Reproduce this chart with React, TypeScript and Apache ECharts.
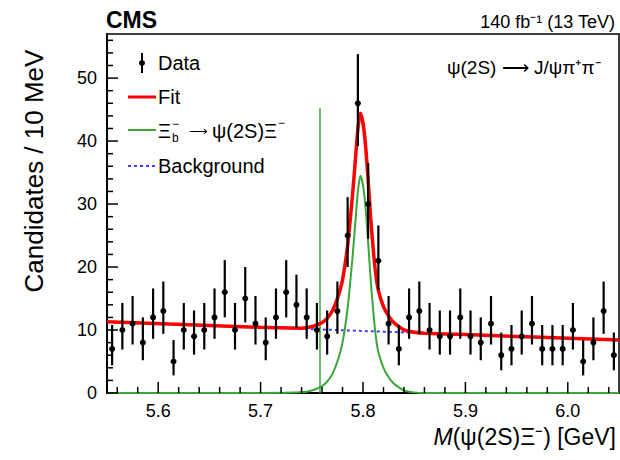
import React, { useEffect, useRef } from "react";
import * as echarts from "echarts";

// ---- data ----
const binCenters = [
  5.555, 5.565, 5.575, 5.585, 5.595, 5.605, 5.615, 5.625, 5.635, 5.645,
  5.655, 5.665, 5.675, 5.685, 5.695, 5.705, 5.715, 5.725, 5.735, 5.745,
  5.755, 5.765, 5.775, 5.785, 5.795, 5.805, 5.815, 5.825, 5.835, 5.845,
  5.855, 5.865, 5.875, 5.885, 5.895, 5.905, 5.915, 5.925, 5.935, 5.945,
  5.955, 5.965, 5.975, 5.985, 5.995, 6.005, 6.015, 6.025, 6.035, 6.045,
];
const candidates = [
  7, 10, 11, 8, 12, 13, 5, 10, 9, 10,
  12, 16, 10, 15, 11, 8, 12, 16, 14, 12,
  10, 9, 13, 25, 46, 30, 21, 11, 7, 12,
  13, 10, 9, 9, 12, 9, 8, 11, 6, 7,
  9, 11, 7, 7, 7, 10, 5, 8, 13, 6,
];
const errDown = [
  2.6, 3.1, 3.3, 2.8, 3.4, 3.6, 2.2, 3.1, 2.9, 3.1,
  3.4, 4.0, 3.1, 3.8, 3.3, 2.8, 3.4, 4.0, 3.7, 3.4,
  3.1, 2.9, 3.6, 5.0, 6.8, 5.5, 4.6, 3.3, 2.6, 3.4,
  3.6, 3.1, 2.9, 2.9, 3.4, 2.9, 2.8, 3.3, 2.4, 2.6,
  2.9, 3.3, 2.6, 2.6, 2.6, 3.1, 2.2, 2.8, 3.6, 2.4,
];
const errUp = [
  3.8, 4.3, 4.4, 4.0, 4.6, 4.7, 3.4, 4.3, 4.1, 4.3,
  4.6, 5.1, 4.3, 5.0, 4.4, 4.0, 4.6, 5.1, 4.8, 4.6,
  4.3, 4.1, 4.7, 6.1, 7.8, 6.5, 5.6, 4.4, 3.8, 4.6,
  4.7, 4.3, 4.1, 4.1, 4.6, 4.1, 4.0, 4.4, 3.6, 3.8,
  4.1, 4.4, 3.8, 3.8, 3.8, 4.3, 3.4, 4.0, 4.7, 3.6,
];

const curveMass = [
  5.55, 5.65, 5.70, 5.74, 5.75, 5.76, 5.765, 5.77, 5.775, 5.78,
  5.785, 5.79, 5.7925, 5.795, 5.7975, 5.80, 5.8025, 5.805, 5.8075, 5.81,
  5.8125, 5.815, 5.82, 5.825, 5.83, 5.835, 5.84, 5.85, 5.86, 5.90,
  5.95, 6.00, 6.05,
];
const fitTotal = [
  11.3, 10.72, 10.43, 10.3, 10.54, 11.18, 11.85, 13.02, 14.99, 17.97,
  23.44, 31.9, 36.9, 41.9, 44.4, 42.85, 39.3, 33.8, 27.8, 22.8,
  18.8, 16.3, 13.7, 12.2, 11.2, 10.55, 10.0, 9.66, 9.5, 9.27,
  8.98, 8.69, 8.4,
];
const signalComp = [
  0, 0, 0, 0.1, 0.4, 1.1, 1.8, 3.0, 5.0, 8.0,
  13.5, 22, 27, 32, 34.5, 33, 29.5, 24, 18, 13,
  9.0, 6.5, 4.0, 2.5, 1.5, 0.9, 0.4, 0.1, 0, 0,
  0, 0, 0,
];
const bgMass = [5.55, 6.05];
const bgLevel = [11.3, 8.4];
const signalEdge = { mass: 5.758, top: 45.2 };

const xMajorTicks = [5.6, 5.7, 5.8, 5.9, 6.0];
const xMinorTicks = [
  5.56, 5.58, 5.62, 5.64, 5.66, 5.68, 5.72, 5.74, 5.76, 5.78,
  5.82, 5.84, 5.86, 5.88, 5.92, 5.94, 5.96, 5.98, 6.02, 6.04,
];
const yMajorTicks = [0, 10, 20, 30, 40, 50];
const yMinorTicks = [
  2, 4, 6, 8, 12, 14, 16, 18, 22, 24, 26, 28, 32, 34, 36, 38,
  42, 44, 46, 48, 52, 54, 56,
];

const X_MIN = 5.55;
const X_MAX = 6.05;
const Y_MAX = 57;

const RED = "#ff0000";
const GREEN = "#3aa63a";
const BLUE = "#3f3fff";
const FONT = "'Liberation Sans', Arial, Helvetica, sans-serif";

export default function App() {
  const ref = useRef<HTMLDivElement>(null);

  useEffect(() => {
    if (!ref.current) return;
    const chart = echarts.init(ref.current, undefined, { renderer: "svg" });

    const dataPoints = binCenters.map((m, i) => [m, candidates[i], errDown[i], errUp[i]]);
    const fitData = curveMass.map((m, i) => [m, fitTotal[i]]);
    const sigData = curveMass.map((m, i) => [m, signalComp[i]]);
    const bgData = bgMass.map((m, i) => [m, bgLevel[i]]);
    const xTickData = xMajorTicks.map((v) => [v, 1]).concat(xMinorTicks.map((v) => [v, 0]));
    const yTickData = yMajorTicks.map((v) => [X_MIN, v, 1]).concat(yMinorTicks.map((v) => [X_MIN, v, 0]));

    const legendX = 158;
    const legendFont = 20;

    const option: any = {
      animation: false,
      backgroundColor: "#ffffff",
      grid: {
        left: 107,
        top: 34,
        width: 512,
        height: 359,
        show: true,
        borderColor: "#000",
        borderWidth: 1.5,
        backgroundColor: "transparent",
      },
      xAxis: {
        type: "value",
        min: X_MIN,
        max: X_MAX,
        interval: 0.05,
        axisLine: { show: true, onZero: false, lineStyle: { color: "#000", width: 2 } },
        axisTick: { show: false },
        splitLine: { show: false },
        axisLabel: {
          color: "#000",
          fontSize: 18,
          fontFamily: FONT,
          margin: 9,
          showMinLabel: false,
          showMaxLabel: false,
          formatter: (v: number) => {
            const r = Math.round(v * 10) / 10;
            return Math.abs(r - v) < 1e-6 ? r.toFixed(1) : "";
          },
        },
      },
      yAxis: {
        type: "value",
        min: 0,
        max: Y_MAX,
        interval: 10,
        axisLine: { show: true, lineStyle: { color: "#000", width: 2 } },
        axisTick: { show: false },
        splitLine: { show: false },
        axisLabel: {
          color: "#000",
          fontSize: 18,
          fontFamily: FONT,
          margin: 10,
          formatter: (v: number) => (v % 10 === 0 ? String(v) : ""),
        },
      },
      series: [
        {
          type: "line",
          name: "Background",
          data: bgData,
          showSymbol: false,
          lineStyle: { color: BLUE, width: 2, type: [3, 3] },
          z: 2,
          silent: true,
        },
        {
          type: "line",
          name: "signal",
          data: sigData,
          showSymbol: false,
          smooth: 0.25,
          lineStyle: { color: GREEN, width: 2 },
          z: 3,
          silent: true,
        },
        {
          type: "line",
          name: "signalEdge",
          data: [
            [signalEdge.mass, 0],
            [signalEdge.mass, signalEdge.top],
          ],
          showSymbol: false,
          lineStyle: { color: GREEN, width: 1.5 },
          z: 3,
          silent: true,
        },
        {
          type: "line",
          name: "Fit",
          data: fitData,
          showSymbol: false,
          smooth: 0.25,
          lineStyle: { color: RED, width: 3.5 },
          z: 4,
          silent: true,
        },
        {
          type: "custom",
          name: "Data",
          data: dataPoints,
          z: 6,
          silent: true,
          renderItem: (params: any, api: any) => {
            const x = api.value(0);
            const y = api.value(1);
            const lo = api.value(2);
            const hi = api.value(3);
            const p = api.coord([x, y]);
            const pl = api.coord([x, y - lo]);
            const ph = api.coord([x, y + hi]);
            return {
              type: "group",
              children: [
                {
                  type: "line",
                  shape: { x1: p[0], y1: ph[1], x2: p[0], y2: pl[1] },
                  style: { stroke: "#000", lineWidth: 2.2 },
                },
                {
                  type: "circle",
                  shape: { cx: p[0], cy: p[1], r: 3 },
                  style: { fill: "#000" },
                },
              ],
            };
          },
        },
        {
          type: "custom",
          name: "xticks",
          data: xTickData,
          z: 7,
          silent: true,
          clip: false,
          renderItem: (params: any, api: any) => {
            const v = api.value(0);
            const major = api.value(1) === 1;
            const p = api.coord([v, 0]);
            return {
              type: "line",
              shape: { x1: p[0], y1: p[1], x2: p[0], y2: p[1] - (major ? 11 : 6) },
              style: { stroke: "#000", lineWidth: 1.5 },
            };
          },
        },
        {
          type: "custom",
          name: "yticks",
          data: yTickData,
          z: 7,
          silent: true,
          clip: false,
          renderItem: (params: any, api: any) => {
            const v = api.value(1);
            const major = api.value(2) === 1;
            const p = api.coord([X_MIN, v]);
            return {
              type: "line",
              shape: { x1: p[0], y1: p[1], x2: p[0] + (major ? 11 : 6), y2: p[1] },
              style: { stroke: "#000", lineWidth: 1.5 },
            };
          },
        },
      ],
      graphic: [
        // header
        {
          type: "text",
          left: 106,
          top: 8,
          style: { text: "CMS", font: `bold 23px ${FONT}`, fill: "#000" },
        },
        {
          type: "text",
          x: 615,
          y: 22,
          style: {
            text: "140 fb⁻¹ (13 TeV)",
            font: `18px ${FONT}`,
            fill: "#000",
            textAlign: "right",
            textVerticalAlign: "middle",
          },
        },
        {
          type: "text",
          x: 447,
          y: 67,
          style: {
            text: "ψ(2S) ⟶ J/ψπ⁺π⁻",
            font: `19px ${FONT}`,
            fill: "#000",
            textAlign: "left",
            textVerticalAlign: "middle",
          },
        },
        // axis titles
        {
          type: "text",
          x: 34,
          y: 171,
          rotation: Math.PI / 2,
          style: {
            text: "Candidates / 10 MeV",
            font: `26px ${FONT}`,
            fill: "#000",
            textAlign: "center",
            textVerticalAlign: "middle",
          },
        },
        {
          type: "text",
          x: 616,
          y: 437,
          style: {
            text: "{i|M}{n|(ψ(2S)Ξ⁻) [GeV]}",
            textAlign: "right",
            textVerticalAlign: "middle",
            rich: {
              i: { font: `italic 23px ${FONT}`, fill: "#000" },
              n: { font: `23px ${FONT}`, fill: "#000" },
            },
          },
        },
        // legend: Data
        {
          type: "line",
          shape: { x1: 142, y1: 53, x2: 142, y2: 73 },
          style: { stroke: "#000", lineWidth: 2 },
        },
        {
          type: "circle",
          shape: { cx: 142, cy: 63, r: 3 },
          style: { fill: "#000" },
        },
        {
          type: "text",
          x: legendX,
          y: 63,
          style: { text: "Data", font: `${legendFont}px ${FONT}`, fill: "#000", textVerticalAlign: "middle" },
        },
        // legend: Fit
        {
          type: "line",
          shape: { x1: 128, y1: 97, x2: 156, y2: 97 },
          style: { stroke: RED, lineWidth: 3 },
        },
        {
          type: "text",
          x: legendX,
          y: 97,
          style: { text: "Fit", font: `${legendFont}px ${FONT}`, fill: "#000", textVerticalAlign: "middle" },
        },
        // legend: signal
        {
          type: "line",
          shape: { x1: 128, y1: 130, x2: 156, y2: 130 },
          style: { stroke: GREEN, lineWidth: 2 },
        },
        {
          type: "text",
          x: legendX,
          y: 131,
          style: { text: "Ξ", font: `${legendFont}px ${FONT}`, fill: "#000", textVerticalAlign: "middle" },
        },
        {
          type: "text",
          x: 172,
          y: 138,
          style: { text: "b", font: `12px ${FONT}`, fill: "#000", textVerticalAlign: "middle" },
        },
        {
          type: "text",
          x: 172,
          y: 124,
          style: { text: "−", font: `12px ${FONT}`, fill: "#000", textVerticalAlign: "middle" },
        },
        {
          type: "text",
          x: 189,
          y: 131,
          style: { text: "⟶", font: `13px ${FONT}`, fill: "#000", textVerticalAlign: "middle" },
        },
        {
          type: "text",
          x: 212,
          y: 131,
          style: { text: "ψ(2S)Ξ", font: `${legendFont}px ${FONT}`, fill: "#000", textVerticalAlign: "middle" },
        },
        {
          type: "text",
          x: 278,
          y: 123,
          style: { text: "−", font: `12px ${FONT}`, fill: "#000", textVerticalAlign: "middle" },
        },
        // legend: background
        {
          type: "line",
          shape: { x1: 128, y1: 166, x2: 156, y2: 166 },
          style: { stroke: BLUE, lineWidth: 2, lineDash: [3, 3] },
        },
        {
          type: "text",
          x: legendX,
          y: 166,
          style: { text: "Background", font: `${legendFont}px ${FONT}`, fill: "#000", textVerticalAlign: "middle" },
        },
      ],
    };

    chart.setOption(option);
    return () => chart.dispose();
  }, []);

  return (
    <div
      ref={ref}
      style={{ position: "fixed", left: 0, top: 0, width: 620, height: 460, background: "#fff" }}
    />
  );
}
